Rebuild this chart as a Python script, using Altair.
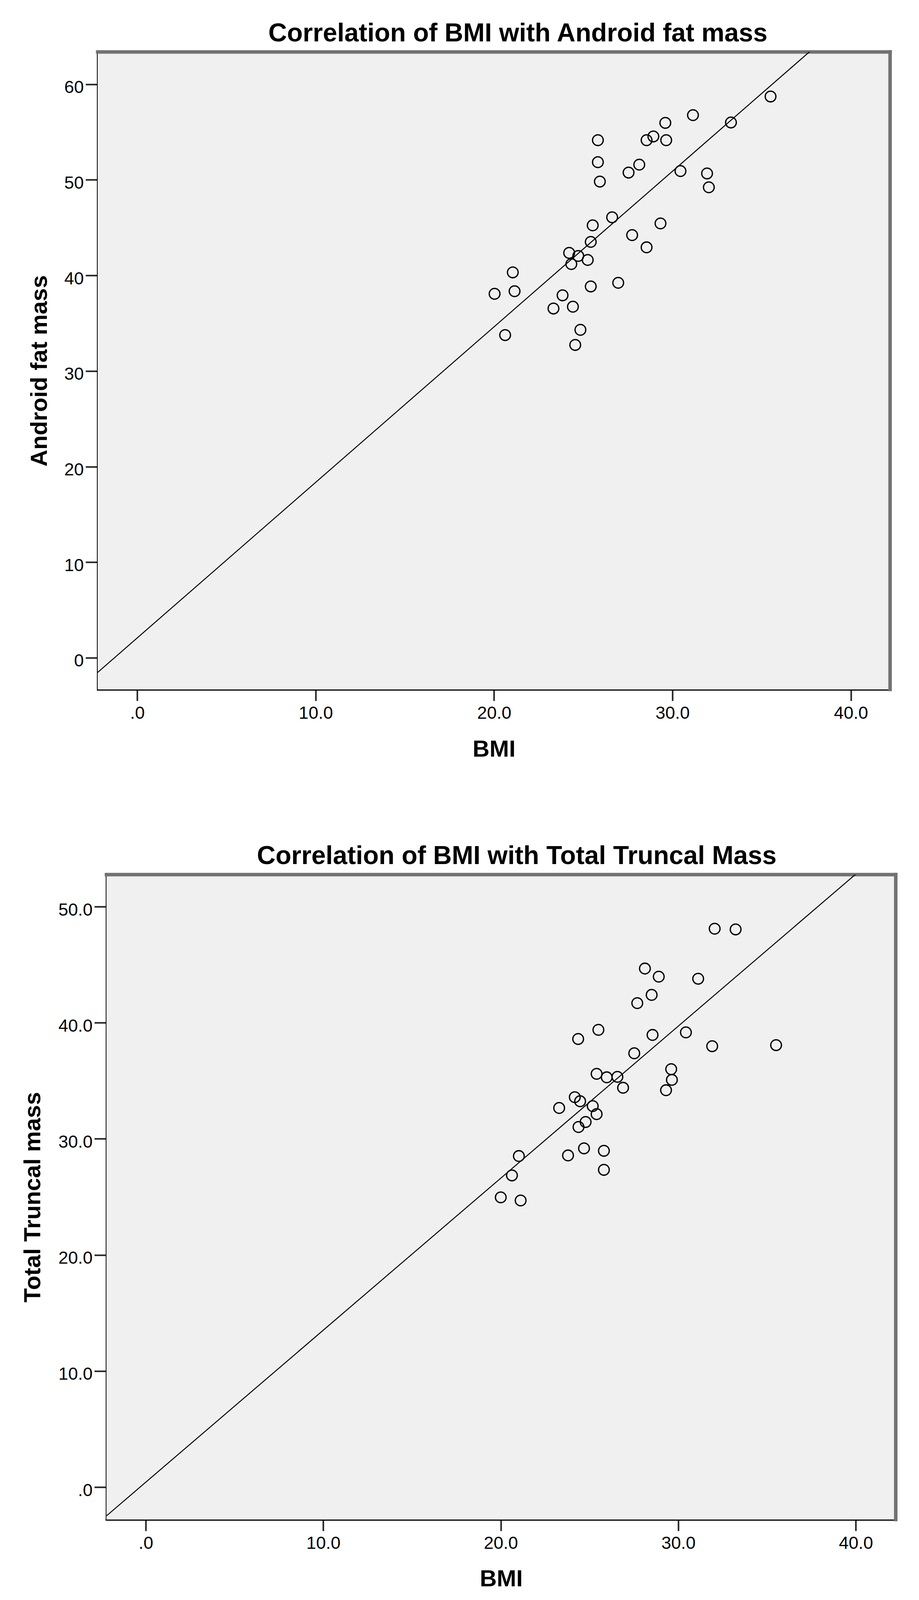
import altair as alt
import pandas as pd

# ---------------- data ----------------
BMI_ANDROID = [20.03, 20.62, 21.05, 21.15, 23.33, 23.84, 24.21, 24.33, 24.42, 24.55,
               24.72, 24.84, 25.25, 25.42, 25.42, 25.53, 25.82, 25.82, 25.93, 26.62,
               26.96, 27.54, 27.74, 28.14, 28.55, 28.55, 28.93, 29.33, 29.60, 29.65,
               30.45, 31.15, 31.94, 32.04, 33.28, 35.50]
ANDROID_FAT = [38.08, 33.76, 40.32, 38.35, 36.54, 37.92, 42.36, 41.19, 36.73, 32.73,
               42.04, 34.31, 41.62, 43.51, 38.85, 45.24, 54.15, 51.85, 49.82, 46.08,
               39.23, 50.76, 44.22, 51.59, 54.15, 42.94, 54.54, 45.44, 55.96, 54.15,
               50.92, 56.77, 50.67, 49.22, 56.00, 58.72]

BMI_TRUNCAL = [20.00, 20.63, 21.02, 21.12, 23.29, 23.79, 24.17, 24.36, 24.47, 24.38,
               24.69, 24.78, 25.18, 25.40, 25.40, 25.50, 25.97, 25.81, 25.81, 26.57,
               26.89, 27.52, 27.69, 28.12, 28.50, 28.55, 28.90, 29.31, 29.60, 29.64,
               30.43, 31.12, 31.91, 32.05, 33.23, 35.51]
TRUNCAL_MASS = [24.96, 26.85, 28.52, 24.69, 32.66, 28.57, 33.59, 38.60, 33.24, 31.02,
                29.18, 31.45, 32.82, 32.13, 35.60, 39.39, 35.30, 28.97, 27.33, 35.34,
                34.40, 37.37, 41.69, 44.67, 42.40, 38.95, 43.97, 34.19, 36.00, 35.08,
                39.17, 43.79, 37.98, 48.10, 48.04, 38.07]

TITLE_A = "Correlation of BMI with Android fat mass"
TITLE_T = "Correlation of BMI with Total Truncal Mass"
X_TITLE = "BMI"
Y_TITLE_A = "Android fat mass"
Y_TITLE_T = "Total Truncal mass"

X_TICKS = [0, 10, 20, 30, 40]
X_TICK_LABELS = [".0", "10.0", "20.0", "30.0", "40.0"]
Y_TICKS_A = [0, 10, 20, 30, 40, 50, 60]
Y_TICK_LABELS_A = ["0", "10", "20", "30", "40", "50", "60"]
Y_TICKS_T = [0, 10, 20, 30, 40, 50]
Y_TICK_LABELS_T = [".0", "10.0", "20.0", "30.0", "40.0", "50.0"]

X_DOMAIN_A = [-2.22, 42.2]
Y_DOMAIN_A = [-3.31, 63.38]
X_DOMAIN_T = [-2.21, 42.25]
Y_DOMAIN_T = [-2.79, 52.76]

FONT = "Liberation Sans"
BG = "#f0f0f0"
FRAME = "#727272"


def label_expr(values, labels):
    expr = "''"
    for v, l in reversed(list(zip(values, labels))):
        expr = f"datum.value == {v} ? '{l}' : ({expr})"
    return expr


def panel(xv, yv, yfield, title, ytitle, xdom, ydom, yticks, ylabels,
          W, H, x_start, top_ext, bottom_ext, title_x, title_y,
          ytitle_x, xtitle_x, xtitle_y, left_ext=241.5):
    df = pd.DataFrame({"BMI": xv, yfield: yv})
    one = pd.DataFrame({"t": [title]})
    x_end = W

    x_enc = alt.X("BMI:Q",
                  scale=alt.Scale(domain=xdom, nice=False, zero=False, range=[x_start, x_end]),
                  axis=alt.Axis(values=X_TICKS, labelExpr=label_expr(X_TICKS, X_TICK_LABELS),
                                title=X_TITLE, titleX=xtitle_x, titleY=xtitle_y,
                                titleAlign="center", titleBaseline="middle",
                                labelPadding=9, tickSize=29, labelFlush=False))
    y_enc = alt.Y(f"{yfield}:Q",
                  scale=alt.Scale(domain=ydom, nice=False, zero=False),
                  axis=alt.Axis(values=yticks, labelExpr=label_expr(yticks, ylabels),
                                title=ytitle, titleX=ytitle_x, titleY=H / 2, titleAngle=270,
                                titleAlign="center", titleBaseline="middle",
                                offset=-x_start,
                                labelPadding=5, labelOffset=8, tickSize=31, labelFlush=False))

    bg = alt.Chart(one).mark_rect(color=BG).encode(
        x=alt.X(datum=xdom[0], scale=alt.Scale(domain=xdom, nice=False, zero=False, range=[x_start, x_end])),
        x2=alt.datum(xdom[1]),
        y=alt.datum(ydom[0]), y2=alt.datum(ydom[1]))
    frame_top = alt.Chart(one).mark_rule(color=FRAME, strokeWidth=9, strokeCap="square").encode(
        x=alt.datum(xdom[0]), x2=alt.datum(xdom[1]), y=alt.datum(ydom[1]))
    frame_right = alt.Chart(one).mark_rule(color=FRAME, strokeWidth=9, strokeCap="square").encode(
        x=alt.datum(xdom[1]), y=alt.datum(ydom[0]), y2=alt.datum(ydom[1]))

    pts = alt.Chart(df).mark_point(shape="circle", filled=False, color="black",
                                   size=750, strokeWidth=3.3, opacity=1).encode(x=x_enc, y=y_enc)
    fit = alt.Chart(df).transform_regression("BMI", yfield, extent=list(xdom)).mark_line(
        color="black", strokeWidth=2.5, clip=True).encode(x=x_enc, y=y_enc)

    ttl = alt.Chart(one).mark_text(font=FONT, fontSize=66, fontWeight="bold", color="black",
                                   align="center", baseline="middle").encode(
        x=alt.value(title_x), y=alt.value(title_y), text="t:N")

    helper = alt.Chart(one).mark_rule(opacity=0, strokeWidth=1).encode(
        x=alt.value(-left_ext + 0.5), y=alt.value(-top_ext), y2=alt.value(H + bottom_ext))

    return alt.layer(bg, frame_top, frame_right, fit, pts, ttl, helper).properties(width=W, height=H)


# top panel: plot area at (249.5, 132.3), 2028 x 1632
top = panel(BMI_ANDROID, ANDROID_FAT, "Android", TITLE_A, Y_TITLE_A, X_DOMAIN_A, Y_DOMAIN_A,
            Y_TICKS_A, Y_TICK_LABELS_A,
            W=2028, H=1632, x_start=0, top_ext=124.3, bottom_ext=200,
            title_x=1075.5, title_y=-47.5, ytitle_x=-148.5, xtitle_x=1014, xtitle_y=153.6)

# bottom panel: plot area at (272, 2236.8), 2020 x 1651
bottom = panel(BMI_TRUNCAL, TRUNCAL_MASS, "Truncal", TITLE_T, Y_TITLE_T, X_DOMAIN_T, Y_DOMAIN_T,
               Y_TICKS_T, Y_TICK_LABELS_T,
               W=2042.5, H=1651, x_start=22.5, top_ext=272.5, bottom_ext=195,
               title_x=1072.5, title_y=-47, ytitle_x=-188.5, xtitle_x=1032.5, xtitle_y=152)

chart = alt.vconcat(top, bottom, spacing=0).properties(
    padding=0, background="white"
).configure_view(
    fill="transparent", stroke="transparent"
).configure_axis(
    labelFont=FONT, labelFontSize=45, labelColor="black",
    titleFont=FONT, titleFontSize=60, titleFontWeight="bold", titleColor="black",
    domainColor="black", domainWidth=5, domainCap="square",
    tickColor="#222222", tickWidth=4, grid=False
)

chart.save("out.html", embed_options={"renderer": "svg", "actions": False})
